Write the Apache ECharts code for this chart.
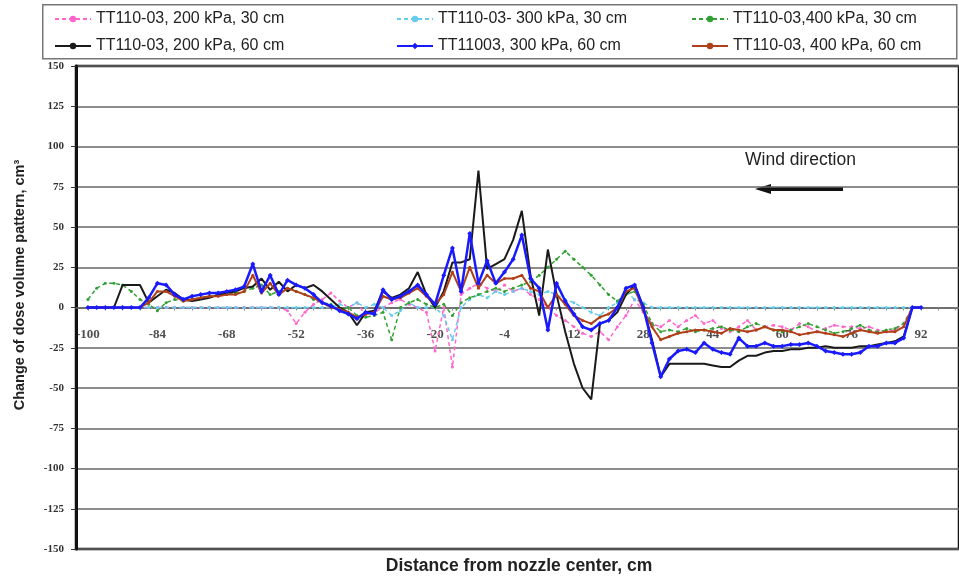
<!DOCTYPE html>
<html>
<head>
<meta charset="utf-8">
<script src="https://cdn.jsdelivr.net/npm/echarts@6/dist/echarts.min.js"></script>
<style>
  html, body { margin: 0; padding: 0; background: #fff; }
  #chart { width: 959px; height: 580px; }
</style>
</head>
<body>
<div id="chart"></div>
<script>
// distance from nozzle center, cm
const xs = [
  -100, -98, -96, -94, -92, -90, -88, -86,
  -84, -82, -80, -78, -76, -74, -72, -70,
  -68, -66, -64, -62, -60, -58, -56, -54,
  -52, -50, -48, -46, -44, -42, -40, -38,
  -36, -34, -32, -30, -28, -26, -24, -22,
  -20, -18, -16, -14, -12, -10, -8, -6,
  -4, -2, 0, 2, 4, 6, 8, 10,
  12, 14, 16, 18, 20, 22, 24, 26,
  28, 30, 32, 34, 36, 38, 40, 42,
  44, 46, 48, 50, 52, 54, 56, 58,
  60, 62, 64, 66, 68, 70, 72, 74,
  76, 78, 80, 82, 84, 86, 88, 90,
  92
]
const xLabels = [-100, -84, -68, -52, -36, -20, -4, 12, 28, 44, 60, 76, 92]
const xTicks = [-100, -96, -92, -88, -84, -80, -76, -72, -68, -64, -60, -56, -52, -48, -44, -40,
  -36, -32, -28, -24, -20, -16, -12, -8, -4, 0, 4, 8, 12, 16, 20, 24, 28, 32, 36, 40,
  44, 48, 52, 56, 60, 64, 68, 72, 76, 80, 84, 88, 92, 96, 100]

const names = [
  'TT110-03, 200 kPa, 30 cm',
  'TT110-03- 300 kPa, 30 cm',
  'TT110-03,400 kPa, 30 cm',
  'TT110-03, 200 kPa, 60 cm',
  'TT11003, 300 kPa, 60 cm',
  'TT110-03, 400 kPa, 60 cm'
]

const p200_30 = [
  0, 0, 0, 0, 0, 0, 0, 0,
  0, 0, 0, 0, 0, 0, 0, 0,
  0, 0, 0, 0, 0, 0, 0, -2,
  -10, -3, 2, 5, 9, 4, 0, 3,
  -5, -3, 0, 3, 5, 2, 0, -3,
  -27, 0, -37, 8, 12, 15, 12, 10,
  14, 10, 12, 8, 5, 0, -5, -8,
  -12, -16, -18, -15, -20, -12, -5, 5,
  -3, -10, -12, -8, -12, -8, -5, -10,
  -8, -13, -15, -12, -8, -14, -12, -11,
  -12, -14, -10, -12, -15, -13, -11, -12,
  -12, -13, -12, -14, -15, -14, -10, 0,
  0
]
const p300_30 = [
  0, 0, 0, 0, 0, 0, 0, 0,
  0, 0, 0, 0, 0, 0, 0, 0,
  0, 0, 0, 0, 0, 0, 0, 0,
  0, 0, 0, 0, 0, 2, 0, 3,
  0, 2, 0, -5, -2, 3, 0, 0,
  0, -5, -20, 0, 5, 8, 6, 10,
  8, 10, 12, 10, 8, 10, 8, 5,
  3, 0, -3, -5, 0, 3, 10, 5,
  3, 0, 0, 0, 0, 0, 0, 0,
  0, 0, 0, 0, 0, 0, 0, 0,
  0, 0, 0, 0, 0, 0, 0, 0,
  0, 0, 0, 0, 0, 0, 0, 0,
  0
]
const p400_30 = [
  5, 12, 15, 15, 14, 10, 5, 2,
  -2, 3, 5, 4, 5, 6, 7, 8,
  8, 9, 10, 12, 14, 8, 10, 12,
  10, 8, 5, 3, 2, -2, 0, -5,
  -6, -5, -3, -20, 0, 3, 5, 2,
  0, 2, -5, 3, 6, 8, 10, 12,
  10, 12, 14, 16, 20, 25, 30, 35,
  30, 25, 20, 14, 8, 4, 8, 10,
  2, -10, -15, -14, -15, -13, -15, -14,
  -13, -12, -14, -15, -12, -10, -12, -14,
  -15, -14, -12, -10, -12, -14, -16, -15,
  -13, -11, -14, -15, -14, -13, -10, 0,
  0
]
const p200_60 = [
  0, 0, 0, 0, 14, 14, 14, 3,
  7, 11, 9, 5, 4, 5, 6, 8,
  9, 10, 12, 13, 18, 11, 16, 10,
  14, 12, 14, 10, 5, 0, -3, -11,
  -3, -2, 10, 6, 8, 12, 22, 8,
  0, 10, 28, 28, 30, 85, 24, 27,
  30, 42, 60, 20, -5, 36, 8, -15,
  -35, -50, -57, -10, -8, -3, 8, 14,
  0, -20, -43, -35, -35, -35, -35, -35,
  -36, -37, -37, -33, -30, -30, -28, -27,
  -27, -26, -26, -25, -25, -24, -25, -25,
  -25, -24, -24, -23, -22, -21, -18, 0,
  0
]
const p300_60 = [
  0, 0, 0, 0, 0, 0, 0, 6,
  15, 14, 8, 5, 7, 8, 9, 9,
  10, 11, 13, 27, 10, 20, 8, 17,
  14, 12, 8, 3, 1, -2, -4, -7,
  -3, -4, 11, 5, 7, 10, 14, 8,
  2, 20, 37, 10, 46, 15, 29, 15,
  22, 30, 45, 18, 12, -14, 15, 4,
  -4, -12, -14, -10, -8, 0, 12, 14,
  0, -22, -43, -32, -27, -26, -28, -22,
  -26, -28, -29, -19, -24, -24, -22, -24,
  -24, -23, -23, -22, -24, -27, -28, -29,
  -29, -28, -24, -24, -22, -22, -19, 0,
  0
]
const p400_60 = [
  0, 0, 0, 0, 0, 0, 0, 3,
  10, 10, 7, 4, 5, 6, 7, 7,
  8, 8, 10, 20, 9, 15, 8, 12,
  10, 8, 6, 3, 0, -1, -3, -6,
  -4, -3, 7, 5, 6, 9, 12, 7,
  2, 8, 22, 10, 25, 12, 20, 15,
  18, 18, 20, 12, 10, 0, 8, 2,
  -5, -8, -10, -6, -4, 0, 10, 12,
  -2, -12, -20, -18, -16, -15, -14, -14,
  -15, -16, -13, -14, -15, -14, -12, -14,
  -14, -15, -17, -16, -15, -16, -17, -18,
  -16, -14, -15, -16, -15, -15, -12, 0,
  0
]

function pairs(vals) {
  return xs.map((x, i) => [x, vals[i]])
}

const chart = echarts.init(document.getElementById('chart'))

const legendText = { fontFamily: 'Liberation Sans, Arial', fontSize: 16, color: '#222' }
const legendBase = {
  orient: 'vertical', top: 11, padding: 0, itemWidth: 36, itemHeight: 8, itemGap: 11,
  textStyle: legendText, selectedMode: false
}

function dashed(name, data, color) {
  return {
    name, type: 'line', data: pairs(data),
    symbol: 'circle', symbolSize: 3, showSymbol: true,
    itemStyle: { color },
    lineStyle: { color, width: 1.5, type: [4, 3] },
    z: 2
  }
}
function solid(name, data, color, symbol, size, width, z) {
  return {
    name, type: 'line', data: pairs(data),
    symbol, symbolSize: size, showSymbol: symbol !== 'none',
    itemStyle: { color },
    lineStyle: { color, width },
    z
  }
}

chart.setOption({
  animation: false,
  backgroundColor: '#fff',
  grid: { left: 76, right: 0, top: 66, bottom: 31, show: true, borderColor: '#111', borderWidth: 2.5 },
  legend: [
    Object.assign({ left: 54, data: [names[0], names[3]] }, legendBase),
    Object.assign({ left: 396, data: [names[1], names[4]] }, legendBase),
    Object.assign({ left: 691, data: [names[2], names[5]] }, legendBase)
  ],
  xAxis: {
    type: 'value', min: -102.75, max: 100.75,
    axisLine: { onZero: true, lineStyle: { color: '#666', width: 1.5 } },
    axisTick: { show: true, customValues: xTicks, length: 3, lineStyle: { color: '#888' } },
    axisLabel: { show: false },
    splitLine: { show: false }
  },
  yAxis: {
    type: 'value', min: -150, max: 150, interval: 25,
    axisLine: { show: true, onZero: false, lineStyle: { color: '#111', width: 3 } },
    axisTick: { show: true, length: 5, lineStyle: { color: '#333' } },
    axisLabel: {
      margin: 12,
      fontFamily: 'Liberation Serif, Times New Roman', fontWeight: 'bold', fontSize: 11, color: '#333'
    },
    splitLine: { lineStyle: { color: '#666', width: 1.5 } }
  },
  graphic: [
    {
      type: 'rect', left: 42, top: 4, z: -1,
      shape: { width: 914, height: 54 },
      style: { fill: '#fff', stroke: '#777', lineWidth: 1.5 }
    },
    {
      type: 'text', x: 20, y: 285, rotation: Math.PI / 2,
      style: {
        text: 'Change of dose volume pattern, cm³', align: 'center', verticalAlign: 'middle',
        font: 'bold 14.5px Liberation Sans, Arial', fill: '#222'
      }
    },
    {
      type: 'text', x: 519, y: 566,
      style: {
        text: 'Distance from nozzle center, cm', align: 'center', verticalAlign: 'middle',
        font: 'bold 17.5px Liberation Sans, Arial', fill: '#222'
      }
    },
    {
      type: 'text', x: 745, y: 160,
      style: { text: 'Wind direction', verticalAlign: 'middle', font: '17.5px Liberation Sans, Arial', fill: '#222' }
    },
    {
      type: 'line', shape: { x1: 768, y1: 189, x2: 843, y2: 189 },
      style: { stroke: '#111', lineWidth: 4 }
    },
    {
      type: 'polygon', shape: { points: [[755, 189], [771, 184], [771, 194]] },
      style: { fill: '#111' }
    }
  ],
  series: [
    {
      // x tick labels sitting under the zero line, drawn below the curves
      type: 'scatter', silent: true, symbol: 'circle', symbolSize: 2, z: 1,
      itemStyle: { color: 'rgba(0,0,0,0)' },
      data: xLabels.map(v => [v, 0]),
      label: {
        show: true, position: 'bottom', distance: 20,
        formatter: p => String(p.value[0]),
        fontFamily: 'Liberation Serif, Times New Roman', fontWeight: 'bold', fontSize: 13, color: '#222'
      }
    },
    dashed(names[0], p200_30, '#ff66cc'),
    dashed(names[1], p300_30, '#66ccee'),
    dashed(names[2], p400_30, '#33a033'),
    solid(names[3], p200_60, '#1a1a1a', 'none', 0, 2, 3),
    solid(names[5], p400_60, '#b0401a', 'circle', 3, 2, 4),
    solid(names[4], p300_60, '#1a1aff', 'diamond', 5, 2.5, 5)
  ]
})
</script>
</body>
</html>
